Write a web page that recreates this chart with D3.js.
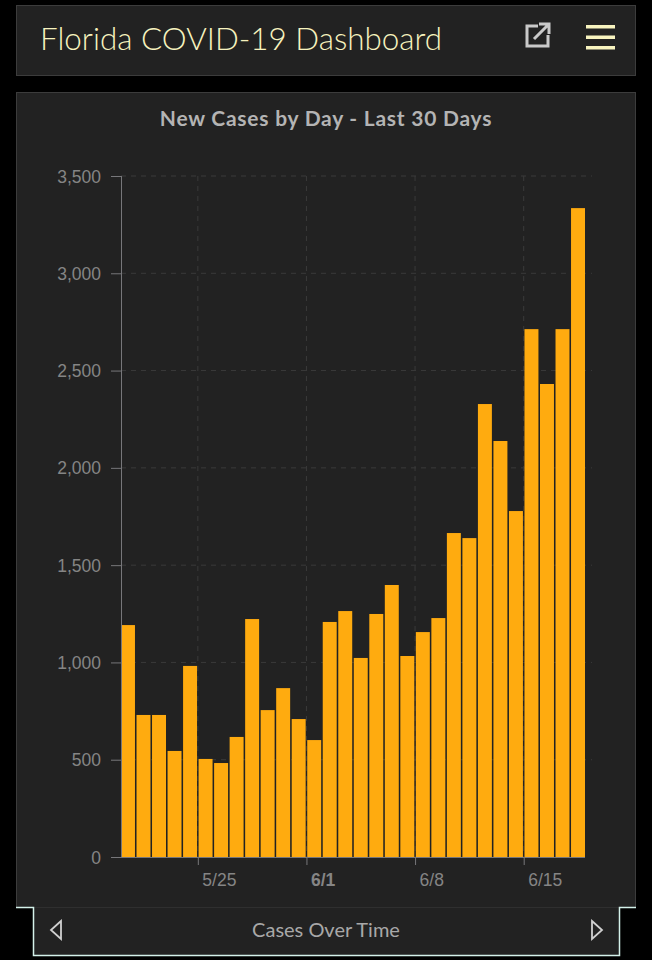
<!DOCTYPE html>
<html>
<head>
<meta charset="utf-8">
<title>Florida COVID-19 Dashboard</title>
<script src="https://cdn.jsdelivr.net/npm/d3@7"></script>
<style>
    html, body { margin: 0; padding: 0; background: #000; }
    svg { display: block; font-family: Lato, "Open Sans", sans-serif; }
    .axis .domain { stroke: #77777a; }
    .axis .tick line { stroke: #77777a; }
    .axis .tick text { fill: #858585; font-size: 17.5px; font-weight: 300; }
    .grid line { stroke: #3a3a3a; stroke-dasharray: 5 5; }
</style>
</head>
<body>
<svg id="chart" width="652" height="960"></svg>
<script>
// Values
const days = ['5/20', '5/21', '5/22', '5/23', '5/24', '5/25', '5/26', '5/27', '5/28', '5/29',
    '5/30', '5/31', '6/1', '6/2', '6/3', '6/4', '6/5', '6/6', '6/7', '6/8',
    '6/9', '6/10', '6/11', '6/12', '6/13', '6/14', '6/15', '6/16', '6/17', '6/18'];
const newCases = [1192, 730, 730, 545, 982, 504, 483, 617, 1223, 755,
    868, 709, 601, 1208, 1264, 1023, 1249, 1398, 1033, 1156,
    1228, 1665, 1639, 2328, 2138, 1778, 2713, 2431, 2713, 3335];
const yTicks = [0, 500, 1000, 1500, 2000, 2500, 3000, 3500];
const xTicks = ['5/25', '6/1', '6/8', '6/15'];

const svg = d3.select('#chart');

// Panels
svg.append('rect').attr('x', 16.5).attr('y', 5.5).attr('width', 619).attr('height', 70)
    .attr('fill', '#222222').attr('stroke', '#3c3c3c');
svg.append('rect').attr('x', 16.5).attr('y', 92.5).attr('width', 619).attr('height', 815)
    .attr('fill', '#222222').attr('stroke', '#3c3c3c');

// Bottom tab
svg.append('path')
    .attr('d', 'M16,907.5H33.5V955.5H619.5V907.5H636')
    .attr('fill', '#222222').attr('stroke', '#d4f1ea').attr('stroke-width', 1.5);

// Header
svg.append('text').attr('x', 40).attr('y', 50).text('Florida COVID-19 Dashboard')
    .attr('fill', '#f7f3bf').attr('font-size', 31.4).attr('font-weight', 300);

// External link icon
const link = svg.append('g').attr('fill', 'none').attr('stroke', '#c9c9c9').attr('stroke-width', 3);
link.append('path').attr('d', 'M538,26H527V46H548V35');
link.append('path').attr('d', 'M534,39L548,25M539,24H549V34');

// Menu icon
svg.append('g').selectAll('rect').data(['top', 'middle', 'bottom']).join('rect')
    .attr('x', 586).attr('width', 29).attr('height', 3.5)
    .attr('y', (d, i) => 25 + i * 10.5)
    .attr('fill', '#f7f3bf');

svg.append('text').attr('x', 326).attr('y', 126).attr('text-anchor', 'middle')
    .text('New Cases by Day - Last 30 Days')
    .attr('fill', '#b4b4b4').attr('font-size', 21).attr('font-weight', 700)
    .attr('letter-spacing', 0.75);

// Scales
const x = d3.scaleBand().domain(days).range([121, 585]).paddingInner(0.1).paddingOuter(0);
const y = d3.scaleLinear().domain([0, 3500]).range([857, 176]);
const step = x.step();
const tickX = d => x(d) - (step - x.bandwidth()) / 2;

// Grid
const grid = svg.append('g').attr('class', 'grid');
grid.selectAll('.h').data(yTicks.slice(1)).join('line').attr('class', 'h')
    .attr('x1', 121).attr('x2', 592).attr('y1', d => y(d)).attr('y2', d => y(d));
grid.selectAll('.v').data(xTicks).join('line').attr('class', 'v')
    .attr('x1', tickX).attr('x2', tickX).attr('y1', 176).attr('y2', 857);

// Bars
svg.append('g').selectAll('rect').data(newCases).join('rect')
    .attr('x', (d, i) => x(days[i]))
    .attr('y', d => y(d))
    .attr('width', x.bandwidth())
    .attr('height', d => y(0) - y(d))
    .attr('fill', '#ffab0f');

// Axes
const yAxis = d3.axisLeft(y).tickValues(yTicks).tickFormat(d3.format(',')).tickSize(10).tickPadding(10);
svg.append('g').attr('class', 'axis').attr('transform', 'translate(121,0)').call(yAxis)
    .call(g => g.select('.domain').attr('d', 'M0.5,176V857'))
    .call(g => g.selectAll('.tick text').attr('dy', '0.35em'));

const xTickScale = d3.scaleOrdinal().domain(xTicks).range(xTicks.map(tickX));
const xAxis = d3.axisBottom(xTickScale).tickValues(xTicks).tickSize(8).tickPadding(9);
svg.append('g').attr('class', 'axis').attr('transform', 'translate(0,857)').call(xAxis)
    .call(g => g.select('.domain').attr('d', 'M111,0.5H585'))
    .call(g => g.selectAll('.tick text').attr('text-anchor', 'start').attr('dx', 4))
    .call(g => g.selectAll('.tick text').filter(d => d === '6/1')
        .style('font-weight', 700).attr('fill', '#a8a8a8'));

// Footer navigation
svg.append('text').attr('x', 326).attr('y', 937).attr('text-anchor', 'middle')
    .text('Cases Over Time').attr('fill', '#a8a8a8').attr('font-size', 20).attr('font-weight', 400);
const arrows = svg.append('g').attr('fill', 'none').attr('stroke', '#d0d0d0').attr('stroke-width', 1.8);
arrows.append('path').attr('d', 'M61,921L51,930L61,939Z');
arrows.append('path').attr('d', 'M592,921L602,930L592,939Z');
</script>
</body>
</html>
